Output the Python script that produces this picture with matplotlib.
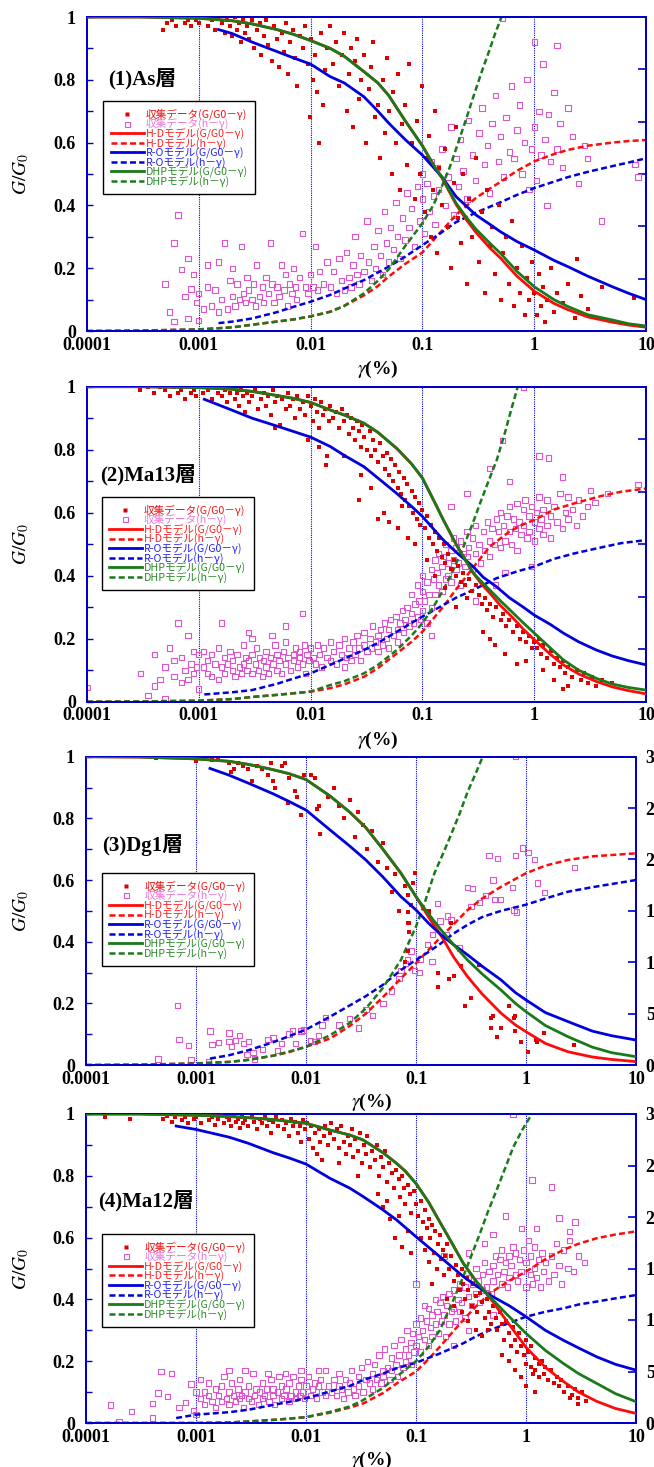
import matplotlib
matplotlib.use('Agg')
import matplotlib.pyplot as plt
from matplotlib.lines import Line2D
from matplotlib.ticker import MultipleLocator, NullLocator

plt.rcParams['mathtext.fontset'] = 'stix'
plt.rcParams['font.family'] = ['Liberation Serif', 'Noto Sans CJK JP', 'DejaVu Sans']

# ---------------- data ----------------
# model curves: (gamma %, G/G0) and (gamma %, h %)
p1_hd_g = [(0.0001, 1.0), (0.0003, 1.0), (0.001, 0.996), (0.002, 0.988), (0.003, 0.978), (0.005, 0.96),
           (0.007, 0.945), (0.01, 0.925), (0.015, 0.9), (0.02, 0.875), (0.03, 0.826), (0.04, 0.79),
           (0.05, 0.75), (0.07, 0.67), (0.1, 0.59), (0.13, 0.52), (0.15, 0.487), (0.2, 0.403), (0.25, 0.352),
           (0.3, 0.315), (0.4, 0.265), (0.5, 0.232), (0.7, 0.175), (1, 0.127), (1.5, 0.088), (2, 0.068),
           (3, 0.045), (5, 0.028), (7, 0.019), (10, 0.012)]
p1_dhp_g = [(0.0001, 1.0), (0.0003, 1.0), (0.001, 0.996), (0.002, 0.988), (0.003, 0.978), (0.005, 0.96),
            (0.007, 0.945), (0.01, 0.925), (0.015, 0.9), (0.02, 0.875), (0.03, 0.826), (0.04, 0.79),
            (0.05, 0.75), (0.07, 0.67), (0.1, 0.59), (0.13, 0.52), (0.15, 0.49), (0.2, 0.407), (0.25, 0.36),
            (0.3, 0.325), (0.4, 0.28), (0.5, 0.247), (0.7, 0.19), (1, 0.141), (1.5, 0.1), (2, 0.078),
            (3, 0.052), (5, 0.035), (7, 0.023), (10, 0.016)]
p1_ro_g = [(0.0015, 0.96), (0.002, 0.947), (0.003, 0.92), (0.005, 0.89), (0.007, 0.87), (0.01, 0.85),
           (0.015, 0.81), (0.02, 0.79), (0.03, 0.746), (0.04, 0.70), (0.05, 0.662), (0.07, 0.61), (0.1, 0.56),
           (0.13, 0.515), (0.15, 0.49), (0.2, 0.428), (0.3, 0.37), (0.4, 0.34), (0.5, 0.316), (0.7, 0.285),
           (1, 0.258), (1.5, 0.225), (2, 0.205), (3, 0.175), (5, 0.141), (7, 0.12), (10, 0.10)]
p1_hd_h = [(0.0001, 0.0), (0.0003, 0.05), (0.001, 0.15), (0.002, 0.35), (0.003, 0.6), (0.005, 0.9),
           (0.007, 1.1), (0.01, 1.4), (0.015, 1.85), (0.02, 2.4), (0.03, 3.4), (0.04, 4.3), (0.05, 5.2),
           (0.07, 6.4), (0.1, 7.5), (0.15, 9.6), (0.2, 11.1), (0.3, 12.7), (0.4, 13.6), (0.5, 14.25),
           (0.7, 15.3), (1, 16.2), (1.5, 16.9), (2, 17.3), (3, 17.7), (5, 18.0), (7, 18.15), (10, 18.25)]
p1_ro_h = [(0.0015, 0.75), (0.002, 0.9), (0.003, 1.2), (0.005, 1.8), (0.007, 2.3), (0.01, 2.8), (0.015, 3.45),
           (0.02, 4.05), (0.03, 4.86), (0.05, 6.15), (0.07, 7.1), (0.1, 8.2), (0.15, 9.45), (0.2, 10.4),
           (0.3, 11.3), (0.5, 12.3), (0.7, 13.0), (1, 13.65), (2, 14.7), (3, 15.2), (5, 15.75), (7, 16.1),
           (10, 16.5)]
p1_dhp_h = [(0.0001, 0.0), (0.0003, 0.03), (0.001, 0.15), (0.002, 0.35), (0.003, 0.6), (0.005, 0.9),
            (0.007, 1.1), (0.01, 1.4), (0.015, 1.83), (0.02, 2.4), (0.03, 3.6), (0.04, 4.8), (0.05, 5.9),
            (0.07, 8.1), (0.1, 10.3), (0.125, 12.0), (0.149, 13.8), (0.175, 15.6), (0.203, 17.6),
            (0.24, 19.9), (0.286, 22.4), (0.34, 24.8), (0.4, 26.9), (0.45, 28.5), (0.51, 30.0), (0.6, 32.5)]

p2_hd_g = [(0.0001, 1.0), (0.0003, 1.0), (0.001, 0.997), (0.002, 0.992), (0.003, 0.985), (0.005, 0.972),
           (0.007, 0.963), (0.01, 0.95), (0.015, 0.926), (0.02, 0.91), (0.03, 0.884), (0.04, 0.855),
           (0.059, 0.804), (0.08, 0.755), (0.1, 0.71), (0.13, 0.63), (0.154, 0.577), (0.2, 0.50),
           (0.233, 0.46), (0.286, 0.408), (0.34, 0.372), (0.4, 0.345), (0.5, 0.305), (0.65, 0.265),
           (0.8, 0.23), (1, 0.197), (1.4, 0.15), (1.82, 0.117), (2.5, 0.088), (3.6, 0.064), (5, 0.047),
           (7, 0.035), (10, 0.025)]
p2_dhp_g = [(0.0001, 1.0), (0.0003, 1.0), (0.001, 0.997), (0.002, 0.992), (0.003, 0.985), (0.005, 0.972),
            (0.007, 0.963), (0.01, 0.95), (0.015, 0.926), (0.02, 0.91), (0.03, 0.884), (0.04, 0.855),
            (0.059, 0.804), (0.08, 0.755), (0.1, 0.71), (0.13, 0.63), (0.154, 0.577), (0.2, 0.50),
            (0.233, 0.46), (0.286, 0.408), (0.34, 0.38), (0.4, 0.355), (0.5, 0.32), (0.65, 0.281),
            (0.8, 0.25), (1, 0.218), (1.4, 0.17), (1.82, 0.133), (2.5, 0.1), (3.6, 0.074), (5, 0.056),
            (7, 0.045), (10, 0.037)]
p2_ro_g = [(0.00112, 0.96), (0.002, 0.925), (0.003, 0.90), (0.005, 0.875), (0.007, 0.858), (0.01, 0.84),
           (0.015, 0.81), (0.02, 0.782), (0.03, 0.746), (0.04, 0.71), (0.059, 0.661), (0.08, 0.62),
           (0.1, 0.588), (0.154, 0.513), (0.2, 0.475), (0.286, 0.428), (0.35, 0.395), (0.46, 0.365),
           (0.6, 0.33), (0.8, 0.30), (1, 0.275), (1.4, 0.245), (1.82, 0.218), (2.5, 0.19), (3.6, 0.164),
           (5, 0.145), (7, 0.13), (10, 0.117)]
p2_hd_h = [(0.0001, 0.0), (0.0003, 0.02), (0.001, 0.1), (0.002, 0.25), (0.003, 0.45), (0.005, 0.65),
           (0.007, 0.8), (0.01, 0.96), (0.015, 1.29), (0.02, 1.65), (0.03, 2.37), (0.04, 3.2), (0.059, 4.6),
           (0.08, 5.7), (0.1, 6.66), (0.154, 9.06), (0.2, 10.7), (0.233, 11.58), (0.3, 13.1), (0.4, 14.76),
           (0.6, 16.2), (0.8, 16.9), (1, 17.3), (1.5, 18.3), (2.3, 18.9), (4, 19.6), (6, 20.0), (10, 20.3)]
p2_ro_h = [(0.00112, 0.69), (0.002, 0.9), (0.003, 1.11), (0.005, 1.7), (0.007, 2.2), (0.01, 2.7),
           (0.015, 3.51), (0.02, 4.1), (0.03, 4.92), (0.04, 5.6), (0.059, 6.66), (0.08, 7.5), (0.1, 8.1),
           (0.154, 9.21), (0.2, 9.9), (0.286, 10.65), (0.46, 11.76), (0.7, 12.4), (1, 12.87), (1.5, 13.6),
           (2.3, 14.13), (4, 14.7), (6, 15.1), (10, 15.39)]
p2_dhp_h = [(0.0001, 0.0), (0.0003, 0.02), (0.001, 0.1), (0.002, 0.25), (0.003, 0.45), (0.005, 0.65),
            (0.007, 0.8), (0.01, 0.96), (0.015, 1.59), (0.02, 1.95), (0.03, 2.7), (0.04, 3.5), (0.059, 4.92),
            (0.08, 6.3), (0.1, 7.47), (0.125, 9.0), (0.154, 10.65), (0.19, 12.6), (0.233, 14.76),
            (0.28, 16.9), (0.328, 18.9), (0.39, 21.0), (0.462, 23.0), (0.55, 25.7), (0.63, 28.0),
            (0.70, 29.7), (0.75, 31.0)]

p3_hd_g = [(0.0001, 1.0), (0.0003, 0.999), (0.001, 0.993), (0.002, 0.985), (0.003, 0.975), (0.005, 0.958),
           (0.007, 0.945), (0.01, 0.926), (0.0166, 0.872), (0.025, 0.82), (0.035, 0.77), (0.05, 0.70),
           (0.073, 0.622), (0.1, 0.546), (0.13, 0.48), (0.169, 0.42), (0.22, 0.35), (0.295, 0.286),
           (0.4, 0.23), (0.593, 0.168), (0.8, 0.13), (1, 0.108), (1.5, 0.07), (2.4, 0.043), (4, 0.026),
           (6, 0.018), (10, 0.011)]
p3_dhp_g = [(0.0001, 1.0), (0.0003, 0.999), (0.001, 0.993), (0.002, 0.985), (0.003, 0.975), (0.005, 0.958),
            (0.007, 0.945), (0.01, 0.926), (0.0166, 0.872), (0.025, 0.82), (0.035, 0.77), (0.05, 0.70),
            (0.073, 0.622), (0.1, 0.546), (0.13, 0.49), (0.169, 0.438), (0.22, 0.39), (0.295, 0.34),
            (0.4, 0.295), (0.593, 0.243), (0.8, 0.2), (1, 0.173), (1.5, 0.128), (2.4, 0.092), (4, 0.058),
            (6, 0.04), (10, 0.027)]
p3_ro_g = [(0.00134, 0.962), (0.002, 0.94), (0.003, 0.914), (0.005, 0.88), (0.007, 0.855), (0.01, 0.827),
           (0.0166, 0.762), (0.025, 0.71), (0.035, 0.665), (0.05, 0.61), (0.073, 0.546), (0.1, 0.503),
           (0.13, 0.46), (0.169, 0.422), (0.22, 0.39), (0.295, 0.357), (0.4, 0.32), (0.593, 0.276),
           (0.8, 0.235), (1, 0.211), (1.5, 0.17), (2.4, 0.141), (4, 0.11), (6, 0.095), (10, 0.081)]
p3_hd_h = [(0.0001, 0.0), (0.0003, 0.03), (0.001, 0.15), (0.002, 0.3), (0.003, 0.5), (0.005, 0.9),
           (0.007, 1.25), (0.01, 1.77), (0.0166, 2.58), (0.025, 3.8), (0.035, 5.0), (0.05, 6.6), (0.073, 8.43),
           (0.1, 9.9), (0.13, 11.2), (0.169, 12.48), (0.22, 13.7), (0.295, 15.09), (0.4, 16.2),
           (0.593, 17.34), (0.8, 18.1), (1, 18.66), (1.5, 19.4), (2.4, 19.95), (4, 20.3), (10, 20.6)]
p3_ro_h = [(0.00134, 0.63), (0.002, 0.95), (0.003, 1.44), (0.005, 2.2), (0.007, 2.8), (0.01, 3.45),
           (0.0166, 4.71), (0.025, 5.8), (0.035, 6.7), (0.05, 7.8), (0.073, 9.24), (0.1, 10.23), (0.13, 11.0),
           (0.169, 11.85), (0.22, 12.8), (0.295, 13.65), (0.4, 14.4), (0.593, 15.0), (1, 15.6), (1.5, 16.2),
           (2.4, 16.86), (4, 17.3), (10, 18.0)]
p3_dhp_h = [(0.0001, 0.0), (0.0003, 0.03), (0.001, 0.15), (0.002, 0.3), (0.003, 0.5), (0.005, 0.9),
            (0.007, 1.3), (0.01, 1.77), (0.0166, 2.91), (0.025, 4.1), (0.035, 5.5), (0.05, 7.5),
            (0.073, 10.23), (0.1, 13.47), (0.12, 15.8), (0.147, 18.66), (0.175, 20.5), (0.208, 22.4),
            (0.25, 24.5), (0.295, 26.6), (0.35, 28.4), (0.404, 30.0), (0.45, 31.3)]

p4_hd_g = [(0.0001, 1.0), (0.0003, 1.0), (0.001, 0.996), (0.002, 0.992), (0.003, 0.988), (0.005, 0.982),
           (0.007, 0.976), (0.01, 0.97), (0.0165, 0.948), (0.025, 0.932), (0.033, 0.916), (0.05, 0.875),
           (0.0667, 0.84), (0.08, 0.815), (0.1, 0.775), (0.13, 0.715), (0.165, 0.65), (0.21, 0.585),
           (0.269, 0.517), (0.35, 0.46), (0.47, 0.405), (0.7, 0.32), (1, 0.245), (1.5, 0.18), (2.18, 0.135),
           (3, 0.1), (4.4, 0.07), (6.5, 0.047), (10, 0.031)]
p4_dhp_g = [(0.0001, 1.0), (0.0003, 1.0), (0.001, 0.996), (0.002, 0.992), (0.003, 0.988), (0.005, 0.982),
            (0.007, 0.976), (0.01, 0.97), (0.0165, 0.948), (0.025, 0.932), (0.033, 0.916), (0.05, 0.875),
            (0.0667, 0.84), (0.08, 0.815), (0.1, 0.775), (0.13, 0.715), (0.165, 0.65), (0.21, 0.585),
            (0.269, 0.517), (0.35, 0.46), (0.47, 0.408), (0.7, 0.345), (1, 0.29), (1.5, 0.235),
            (2.18, 0.193), (3, 0.16), (4.4, 0.128), (6.5, 0.095), (10, 0.069)]
p4_ro_g = [(0.00066, 0.961), (0.001, 0.95), (0.002, 0.925), (0.003, 0.905), (0.005, 0.875), (0.007, 0.858),
           (0.01, 0.838), (0.0165, 0.792), (0.025, 0.76), (0.033, 0.733), (0.05, 0.69), (0.0667, 0.657),
           (0.1, 0.603), (0.165, 0.538), (0.269, 0.474), (0.35, 0.445), (0.47, 0.414), (0.7, 0.38),
           (1, 0.344), (1.5, 0.3), (2.18, 0.268), (3, 0.243), (4.4, 0.214), (6.5, 0.19), (10, 0.171)]
p4_hd_h = [(0.0001, 0.0), (0.001, 0.0), (0.002, 0.05), (0.003, 0.15), (0.005, 0.3), (0.007, 0.42),
           (0.01, 0.57), (0.0165, 1.0), (0.025, 1.5), (0.033, 1.89), (0.05, 2.9), (0.0667, 3.84), (0.1, 5.0),
           (0.13, 6.2), (0.165, 7.41), (0.21, 8.7), (0.269, 10.0), (0.35, 11.3), (0.47, 12.6), (0.7, 13.8),
           (1, 14.7), (1.5, 15.9), (2.18, 16.8), (3, 17.4), (4.4, 17.94), (6.5, 18.3), (10, 18.6)]
p4_ro_h = [(0.00066, 0.48), (0.001, 0.81), (0.002, 1.05), (0.003, 1.29), (0.005, 1.75), (0.007, 2.05),
           (0.01, 2.4), (0.0165, 3.06), (0.025, 3.6), (0.033, 4.17), (0.05, 4.8), (0.0667, 5.31), (0.1, 5.85),
           (0.165, 6.75), (0.269, 7.74), (0.35, 8.4), (0.47, 9.03), (0.7, 9.7), (1, 10.32), (1.5, 10.8),
           (2.18, 11.13), (3, 11.5), (4.4, 11.79), (6.5, 12.1), (10, 12.42)]
p4_dhp_h = [(0.0001, 0.0), (0.001, 0.0), (0.002, 0.05), (0.003, 0.15), (0.005, 0.3), (0.007, 0.42),
            (0.01, 0.57), (0.0165, 1.08), (0.025, 1.6), (0.033, 2.22), (0.05, 3.4), (0.0667, 4.5), (0.1, 6.0),
            (0.13, 7.4), (0.165, 9.03), (0.21, 11.5), (0.269, 14.22), (0.32, 16.3), (0.382, 18.42),
            (0.45, 20.5), (0.54, 22.6), (0.65, 24.8), (0.767, 26.8), (0.93, 28.5), (1.13, 30.0), (1.25, 31.0)]

# collected data: (gamma %, G/G0)
p1_red = [(0.00048, 0.96), (0.00052, 0.98), (0.00058, 0.99), (0.00062, 0.97), (0.0007, 1.0), (0.00075, 0.98),
          (0.0008, 0.99), (0.00085, 0.97), (0.0009, 1.0), (0.00095, 0.99), (0.001, 0.98), (0.0011, 1.0),
          (0.0012, 0.97), (0.0013, 0.99), (0.0014, 0.96), (0.0015, 1.0), (0.0016, 0.98), (0.0017, 0.95),
          (0.0018, 0.99), (0.0019, 0.97), (0.002, 0.94), (0.0021, 1.0), (0.0022, 0.96), (0.0023, 0.98),
          (0.0024, 0.92), (0.0025, 0.99), (0.0026, 0.95), (0.0027, 0.97), (0.0028, 0.93), (0.003, 0.99),
          (0.0031, 0.9), (0.0033, 0.96), (0.0035, 0.98), (0.0036, 0.88), (0.0038, 0.94), (0.004, 0.99),
          (0.0042, 0.91), (0.0045, 0.86), (0.0047, 0.97), (0.005, 0.93), (0.0052, 0.84), (0.0055, 0.95),
          (0.0058, 0.89), (0.006, 0.98), (0.0063, 0.82), (0.0066, 0.92), (0.007, 0.96), (0.0072, 0.87),
          (0.0075, 0.78), (0.008, 0.94), (0.0085, 0.9), (0.009, 0.97), (0.0095, 0.85), (0.0098, 0.68),
          (0.01, 0.93), (0.0105, 0.8), (0.011, 0.88), (0.0115, 0.76), (0.012, 0.6), (0.0125, 0.95),
          (0.013, 0.72), (0.0135, 0.83), (0.014, 0.9), (0.015, 0.97), (0.016, 0.85), (0.017, 0.92),
          (0.018, 0.78), (0.019, 0.88), (0.02, 0.95), (0.021, 0.7), (0.022, 0.82), (0.023, 0.9), (0.024, 0.65),
          (0.025, 0.86), (0.026, 0.93), (0.027, 0.74), (0.028, 0.8), (0.03, 0.88), (0.031, 0.6), (0.033, 0.77),
          (0.035, 0.84), (0.036, 0.92), (0.038, 0.68), (0.04, 0.72), (0.042, 0.55), (0.044, 0.8),
          (0.046, 0.63), (0.048, 0.87), (0.05, 0.7), (0.053, 0.5), (0.055, 0.76), (0.058, 0.6), (0.06, 0.82),
          (0.063, 0.45), (0.066, 0.66), (0.07, 0.72), (0.073, 0.53), (0.076, 0.85), (0.08, 0.6), (0.085, 0.42),
          (0.09, 0.67), (0.095, 0.5), (0.1, 0.78), (0.105, 0.38), (0.11, 0.55), (0.115, 0.62), (0.12, 0.3),
          (0.125, 0.45), (0.13, 0.7), (0.135, 0.25), (0.14, 0.52), (0.15, 0.4), (0.16, 0.58), (0.17, 0.33),
          (0.18, 0.2), (0.19, 0.47), (0.2, 0.65), (0.21, 0.36), (0.22, 0.28), (0.23, 0.5), (0.25, 0.15),
          (0.26, 0.42), (0.28, 0.3), (0.3, 0.55), (0.32, 0.22), (0.34, 0.38), (0.36, 0.12), (0.38, 0.45),
          (0.4, 0.27), (0.42, 0.33), (0.45, 0.18), (0.48, 0.4), (0.5, 0.1), (0.53, 0.25), (0.56, 0.3),
          (0.6, 0.15), (0.63, 0.35), (0.66, 0.08), (0.7, 0.2), (0.74, 0.12), (0.78, 0.27), (0.82, 0.05),
          (0.86, 0.17), (0.9, 0.1), (0.95, 0.22), (1.0, 0.12), (1.05, 0.05), (1.1, 0.18), (1.15, 0.08),
          (1.2, 0.14), (1.25, 0.03), (1.3, 0.1), (1.4, 0.2), (1.5, 0.06), (1.6, 0.12), (1.8, 0.09),
          (2.0, 0.15), (2.3, 0.04), (2.4, 0.23), (2.6, 0.11), (3.0, 0.07), (4.0, 0.14), (7.8, 0.105)]
# collected data: (gamma %, h %)
p1_pink = [(0.0005, 4.5), (0.00055, 1.8), (0.0006, 8.4), (0.0006, 0.9), (0.00065, 11.1), (0.0007, 5.9),
           (0.00075, 3.3), (0.0008, 6.9), (0.0008, 1.2), (0.00085, 4.0), (0.0009, 5.4), (0.00095, 2.7),
           (0.001, 1.0), (0.001, 3.6), (0.0011, 2.1), (0.0012, 6.3), (0.0012, 4.2), (0.0013, 2.4), (0.0014, 3.9),
           (0.0015, 6.6), (0.0015, 1.8), (0.0016, 3.0), (0.0017, 8.4), (0.0018, 2.1), (0.0019, 4.8),
           (0.002, 3.3), (0.002, 6.0), (0.0021, 2.4), (0.0022, 4.5), (0.0023, 3.0), (0.0024, 8.1),
           (0.0025, 3.6), (0.0026, 2.7), (0.0027, 5.1), (0.0028, 3.9), (0.003, 3.0), (0.0031, 4.5),
           (0.0032, 2.4), (0.0033, 6.3), (0.0035, 3.3), (0.0037, 4.2), (0.0038, 2.7), (0.004, 5.1),
           (0.0042, 3.6), (0.0044, 8.4), (0.0045, 4.5), (0.0047, 2.7), (0.005, 4.2), (0.0052, 3.3),
           (0.0055, 6.3), (0.0058, 3.9), (0.006, 5.4), (0.0062, 2.4), (0.0065, 4.5), (0.0068, 3.6), (0.007, 6.0),
           (0.0073, 4.2), (0.0075, 3.0), (0.008, 5.1), (0.0085, 9.3), (0.009, 4.2), (0.0095, 3.6), (0.01, 5.4),
           (0.0105, 4.2), (0.011, 8.1), (0.0115, 3.9), (0.012, 5.7), (0.013, 4.5), (0.014, 6.6), (0.015, 4.2),
           (0.016, 5.7), (0.017, 3.6), (0.018, 6.9), (0.019, 4.8), (0.02, 3.9), (0.021, 7.5), (0.022, 5.1),
           (0.023, 4.2), (0.024, 6.3), (0.025, 9.0), (0.026, 5.4), (0.027, 4.5), (0.028, 7.2), (0.03, 5.7),
           (0.032, 10.5), (0.033, 6.6), (0.035, 4.8), (0.037, 8.1), (0.038, 6.0), (0.04, 9.6), (0.042, 7.2),
           (0.044, 5.4), (0.046, 11.4), (0.048, 8.4), (0.05, 6.6), (0.052, 9.9), (0.055, 7.8), (0.058, 12.3),
           (0.06, 9.0), (0.063, 6.9), (0.066, 10.8), (0.07, 8.7), (0.073, 13.2), (0.076, 9.9), (0.08, 11.7),
           (0.085, 8.1), (0.09, 13.8), (0.095, 10.5), (0.1, 12.6), (0.1, 15.0), (0.105, 9.3), (0.11, 14.1),
           (0.115, 11.4), (0.12, 16.2), (0.125, 12.9), (0.13, 10.2), (0.135, 15.6), (0.14, 13.5), (0.15, 17.4),
           (0.16, 12.0), (0.17, 14.7), (0.18, 19.5), (0.19, 11.1), (0.2, 16.5), (0.21, 13.8), (0.22, 18.3),
           (0.23, 15.3), (0.25, 12.6), (0.26, 20.1), (0.28, 16.8), (0.3, 14.4), (0.32, 18.9), (0.34, 21.3),
           (0.36, 15.9), (0.38, 17.7), (0.4, 13.2), (0.42, 19.8), (0.45, 22.5), (0.48, 16.2), (0.5, 18.6),
           (0.53, 14.7), (0.56, 20.4), (0.6, 17.1), (0.63, 23.4), (0.66, 16.5), (0.7, 19.2), (0.74, 21.6),
           (0.78, 15.0), (0.82, 18.0), (0.86, 24.0), (0.9, 13.5), (0.95, 17.4), (1.0, 19.5), (1.05, 14.4),
           (1.1, 21.0), (1.15, 16.8), (1.2, 25.5), (1.25, 18.3), (1.3, 12.0), (1.35, 20.7), (1.4, 16.2),
           (1.5, 22.8), (1.6, 17.4), (1.7, 19.8), (1.8, 15.6), (2.0, 21.3), (2.2, 18.6), (2.5, 14.1),
           (2.8, 17.7), (3.0, 16.5), (4.0, 10.5), (8.0, 15.9), (8.5, 14.7), (0.52, 29.9), (1.0, 27.6),
           (1.6, 27.3)]

p2_red = [(0.0003, 0.99), (0.00035, 1.0), (0.0004, 0.98), (0.00045, 1.0), (0.0005, 0.99), (0.00055, 0.97),
          (0.0006, 1.0), (0.00065, 0.98), (0.0007, 0.99), (0.00075, 0.96), (0.0008, 1.0), (0.00085, 0.98),
          (0.0009, 0.99), (0.00095, 0.97), (0.001, 1.0), (0.0011, 0.98), (0.0012, 0.99), (0.0013, 0.96),
          (0.0014, 1.0), (0.0015, 0.98), (0.0016, 0.97), (0.0017, 0.99), (0.0018, 0.95), (0.0019, 0.98),
          (0.002, 1.0), (0.0021, 0.96), (0.0022, 0.98), (0.0023, 0.94), (0.0024, 0.99), (0.0025, 0.97),
          (0.0026, 0.92), (0.0027, 0.98), (0.0028, 0.95), (0.003, 0.97), (0.0032, 0.99), (0.0034, 0.93),
          (0.0036, 0.96), (0.0038, 0.98), (0.004, 0.94), (0.0042, 0.97), (0.0044, 0.91), (0.0046, 0.99),
          (0.0048, 0.95), (0.005, 0.97), (0.0053, 0.88), (0.0056, 0.96), (0.006, 0.93), (0.0063, 0.98),
          (0.0066, 0.94), (0.007, 0.96), (0.0073, 0.9), (0.0076, 0.97), (0.008, 0.93), (0.0085, 0.95),
          (0.009, 0.91), (0.0095, 0.97), (0.01, 0.94), (0.0105, 0.89), (0.011, 0.96), (0.0115, 0.92),
          (0.012, 0.87), (0.0125, 0.95), (0.013, 0.91), (0.0135, 0.93), (0.014, 0.78), (0.0145, 0.89),
          (0.0048, 0.87), (0.0095, 0.83), (0.012, 0.81), (0.0138, 0.75), (0.015, 0.94), (0.016, 0.9),
          (0.017, 0.92), (0.018, 0.87), (0.019, 0.93), (0.02, 0.89), (0.021, 0.91), (0.022, 0.85), (0.023, 0.9),
          (0.024, 0.87), (0.025, 0.83), (0.026, 0.89), (0.027, 0.86), (0.028, 0.81), (0.029, 0.88),
          (0.03, 0.84), (0.032, 0.8), (0.034, 0.86), (0.035, 0.78), (0.036, 0.83), (0.038, 0.8), (0.04, 0.76),
          (0.042, 0.82), (0.044, 0.78), (0.046, 0.74), (0.048, 0.79), (0.05, 0.72), (0.052, 0.77), (0.055, 0.7),
          (0.057, 0.75), (0.06, 0.68), (0.062, 0.73), (0.065, 0.66), (0.068, 0.71), (0.07, 0.64),
          (0.073, 0.69), (0.076, 0.62), (0.08, 0.67), (0.083, 0.6), (0.086, 0.65), (0.09, 0.58), (0.093, 0.63),
          (0.096, 0.56), (0.1, 0.61), (0.02, 0.78), (0.028, 0.72), (0.035, 0.68), (0.045, 0.6), (0.05, 0.57),
          (0.06, 0.55), (0.066, 0.62), (0.075, 0.52), (0.085, 0.5), (0.027, 0.64), (0.04, 0.58),
          (0.105, 0.55), (0.11, 0.59), (0.115, 0.52), (0.12, 0.56), (0.125, 0.5), (0.13, 0.54), (0.135, 0.48),
          (0.14, 0.52), (0.15, 0.46), (0.155, 0.5), (0.16, 0.44), (0.17, 0.47), (0.18, 0.42), (0.19, 0.45),
          (0.2, 0.4), (0.21, 0.43), (0.22, 0.38), (0.23, 0.41), (0.24, 0.37), (0.26, 0.39), (0.28, 0.35),
          (0.3, 0.37), (0.11, 0.45), (0.13, 0.4), (0.16, 0.36), (0.2, 0.3), (0.25, 0.33), (0.32, 0.34),
          (0.34, 0.31), (0.36, 0.33), (0.38, 0.29), (0.4, 0.31), (0.43, 0.27), (0.46, 0.3), (0.5, 0.26),
          (0.53, 0.28), (0.56, 0.24), (0.6, 0.26), (0.65, 0.22), (0.7, 0.24), (0.75, 0.2), (0.8, 0.22),
          (0.85, 0.19), (0.9, 0.21), (0.95, 0.17), (1.0, 0.19), (0.35, 0.22), (0.45, 0.18), (0.55, 0.15),
          (0.7, 0.12), (0.85, 0.13), (0.4, 0.2), (1.05, 0.17), (1.1, 0.2), (1.15, 0.15), (1.2, 0.18),
          (1.3, 0.14), (1.4, 0.16), (1.5, 0.12), (1.6, 0.14), (1.7, 0.11), (1.8, 0.13), (1.9, 0.09),
          (2.0, 0.11), (2.2, 0.08), (2.4, 0.1), (2.6, 0.07), (2.8, 0.09), (3.0, 0.06), (3.3, 0.08),
          (3.6, 0.05), (4.0, 0.07), (5.0, 0.06), (1.2, 0.1), (1.5, 0.07), (2.0, 0.05), (1.8, 0.04)]
p2_pink = [(0.0001, 1.35), (0.0003, 2.7), (0.00035, 0.6), (0.0004, 1.5), (0.0004, 4.5), (0.00045, 2.1),
           (0.0005, 3.3), (0.0005, 0.3), (0.00055, 5.1), (0.0006, 2.4), (0.0006, 3.9), (0.00065, 7.5),
           (0.0007, 1.8), (0.0007, 4.2), (0.00075, 3.0), (0.0008, 6.3), (0.0008, 2.1), (0.00085, 3.6),
           (0.0009, 4.8), (0.0009, 2.7), (0.00095, 3.3), (0.001, 1.2), (0.001, 4.5), (0.0011, 3.3),
           (0.0011, 4.8), (0.0012, 2.7), (0.0012, 3.9), (0.0013, 4.5), (0.0013, 2.4), (0.0014, 3.6),
           (0.0015, 5.1), (0.0015, 2.1), (0.0016, 3.3), (0.0017, 4.2), (0.0017, 2.7), (0.0018, 3.6),
           (0.0019, 4.8), (0.002, 3.0), (0.002, 3.9), (0.0021, 2.4), (0.0022, 4.5), (0.0023, 3.3),
           (0.0024, 2.7), (0.0025, 5.4), (0.0025, 3.6), (0.0026, 4.2), (0.0027, 3.0), (0.0028, 3.9),
           (0.003, 2.7), (0.003, 4.5), (0.0032, 3.6), (0.0033, 5.1), (0.0034, 3.0), (0.0035, 4.2),
           (0.0037, 2.4), (0.0038, 3.9), (0.004, 4.8), (0.004, 3.3), (0.0042, 2.7), (0.0044, 4.2),
           (0.0046, 3.6), (0.0048, 5.4), (0.005, 3.0), (0.005, 4.5), (0.0052, 3.9), (0.0055, 2.7),
           (0.0057, 4.8), (0.006, 3.6), (0.006, 5.7), (0.0063, 4.2), (0.0066, 3.0), (0.007, 4.5), (0.007, 3.9),
           (0.0073, 5.1), (0.0076, 3.3), (0.008, 4.8), (0.008, 4.2), (0.0085, 3.6), (0.0088, 5.4),
           (0.009, 2.7), (0.0093, 4.5), (0.0097, 3.9), (0.01, 5.1), (0.0016, 7.5), (0.003, 6.0), (0.006, 7.2),
           (0.0085, 8.4), (0.0028, 6.6), (0.0045, 6.3), (0.0105, 4.2), (0.011, 3.6), (0.0115, 5.4),
           (0.012, 4.5), (0.0125, 3.3), (0.013, 5.1), (0.014, 4.2), (0.015, 3.9), (0.015, 5.7), (0.016, 4.8),
           (0.017, 3.6), (0.018, 5.4), (0.019, 4.5), (0.02, 3.3), (0.02, 6.0), (0.021, 4.2), (0.022, 5.1),
           (0.023, 3.9), (0.024, 5.7), (0.025, 4.5), (0.026, 6.3), (0.027, 5.1), (0.028, 3.9), (0.03, 5.4),
           (0.03, 6.6), (0.032, 4.8), (0.034, 6.0), (0.035, 5.1), (0.036, 7.2), (0.038, 5.7), (0.04, 6.3),
           (0.04, 4.8), (0.042, 6.9), (0.044, 5.4), (0.046, 7.5), (0.048, 6.0), (0.05, 6.9), (0.05, 5.1),
           (0.052, 7.8), (0.055, 6.3), (0.058, 8.1), (0.06, 6.9), (0.06, 5.7), (0.063, 7.5), (0.066, 8.7),
           (0.068, 6.6), (0.07, 7.8), (0.073, 9.0), (0.076, 7.2), (0.08, 8.4), (0.08, 10.2), (0.083, 7.5),
           (0.086, 9.3), (0.09, 8.1), (0.09, 11.1), (0.093, 9.6), (0.096, 7.8), (0.1, 10.5), (0.1, 8.7),
           (0.1, 12.0), (0.105, 9.6), (0.11, 11.4), (0.11, 7.5), (0.115, 10.2), (0.12, 12.6), (0.12, 9.0),
           (0.125, 11.7), (0.13, 13.5), (0.13, 10.2), (0.135, 12.3), (0.14, 11.1), (0.14, 14.1), (0.15, 12.9),
           (0.15, 10.5), (0.155, 13.8), (0.16, 11.7), (0.16, 15.0), (0.17, 13.2), (0.17, 12.0), (0.18, 14.4),
           (0.18, 11.4), (0.19, 13.5), (0.19, 15.6), (0.2, 12.6), (0.2, 14.7), (0.21, 13.2), (0.22, 15.3),
           (0.22, 11.1), (0.23, 14.1), (0.24, 12.9), (0.25, 13.8), (0.25, 16.2), (0.26, 14.7), (0.28, 12.6),
           (0.28, 15.6), (0.3, 14.1), (0.3, 16.8), (0.32, 15.0), (0.33, 13.2), (0.35, 16.2), (0.36, 14.4),
           (0.38, 17.1), (0.4, 15.3), (0.4, 13.8), (0.42, 16.5), (0.44, 15.0), (0.46, 17.4), (0.48, 16.2),
           (0.5, 14.7), (0.5, 18.0), (0.53, 16.8), (0.55, 15.3), (0.57, 17.7), (0.6, 16.2), (0.6, 18.6),
           (0.63, 15.0), (0.65, 17.4), (0.68, 16.5), (0.7, 18.9), (0.7, 14.4), (0.73, 17.1), (0.76, 15.9),
           (0.8, 18.3), (0.8, 16.8), (0.83, 19.2), (0.86, 15.6), (0.9, 17.7), (0.9, 16.2), (0.95, 18.6),
           (1.0, 17.1), (1.0, 15.3), (1.05, 18.0), (1.1, 16.5), (1.1, 19.5), (1.15, 17.4), (1.2, 15.9),
           (1.2, 18.3), (1.3, 16.8), (1.3, 19.2), (1.4, 17.7), (1.4, 15.6), (1.5, 18.6), (1.6, 17.1),
           (1.7, 19.8), (1.8, 16.5), (1.9, 18.0), (2.0, 17.4), (2.0, 19.5), (2.2, 18.3), (2.4, 16.8),
           (2.5, 19.2), (2.7, 17.7), (3.0, 18.6), (3.2, 20.1), (3.5, 19.0), (4.5, 19.8), (8.5, 20.7),
           (0.8, 29.9), (0.52, 24.9), (1.1, 23.4), (1.35, 23.2), (1.8, 21.4), (0.4, 22.2), (0.18, 18.6),
           (0.25, 19.8), (0.6, 21.0), (0.3, 9.6), (0.45, 11.1), (0.55, 12.3), (0.95, 12.9), (0.12, 6.3)]

p3_red = [(0.00043, 0.995), (0.001, 0.985), (0.0014, 0.99), (0.0016, 0.995), (0.002, 0.98), (0.0021, 0.95),
          (0.0022, 0.96), (0.0024, 0.98), (0.0027, 0.97), (0.003, 0.96), (0.0032, 0.92), (0.0036, 0.97),
          (0.004, 0.96), (0.0045, 0.94), (0.0048, 0.98), (0.005, 0.92), (0.0052, 0.9), (0.006, 0.97),
          (0.0065, 0.98), (0.0068, 0.85), (0.007, 0.93), (0.008, 0.89), (0.0082, 0.87), (0.009, 0.81),
          (0.0095, 0.94), (0.011, 0.94), (0.012, 0.93), (0.0125, 0.83), (0.013, 0.84), (0.0135, 0.75),
          (0.016, 0.87), (0.018, 0.9), (0.02, 0.84), (0.022, 0.8), (0.025, 0.86), (0.028, 0.74), (0.03, 0.82),
          (0.033, 0.78), (0.036, 0.7), (0.04, 0.76), (0.045, 0.66), (0.05, 0.72), (0.055, 0.64), (0.06, 0.56),
          (0.065, 0.62), (0.07, 0.5), (0.08, 0.58), (0.085, 0.46), (0.09, 0.52), (0.097, 0.622),
          (0.093, 0.59), (0.084, 0.55), (0.085, 0.497), (0.086, 0.46), (0.087, 0.43), (0.085, 0.37),
          (0.08, 0.333), (0.13, 0.5), (0.132, 0.49), (0.208, 0.46), (0.194, 0.41), (0.257, 0.32),
          (0.223, 0.29), (0.157, 0.3), (0.157, 0.254), (0.2, 0.28), (0.28, 0.19), (0.316, 0.216),
          (0.376, 0.325), (0.48, 0.152), (0.5, 0.16), (0.48, 0.119), (0.55, 0.092), (0.59, 0.119),
          (0.7, 0.19), (0.78, 0.152), (0.8, 0.16), (0.8, 0.11), (0.91, 0.076), (1.04, 0.043), (1.23, 0.081),
          (1.27, 0.076), (1.45, 0.103), (2.75, 0.065)]
p3_pink = [(0.00045, 0.6), (0.00068, 5.8), (0.0007, 2.5), (0.00085, 1.9), (0.0009, 0.55), (0.0013, 0.3),
           (0.00134, 3.3), (0.0014, 2.0), (0.0016, 2.2), (0.002, 2.3), (0.002, 3.1), (0.0021, 1.8),
           (0.0023, 2.4), (0.0025, 2.9), (0.0027, 2.1), (0.003, 2.3), (0.0029, 1.0), (0.0033, 1.2),
           (0.0034, 0.6), (0.004, 1.5), (0.0045, 2.5), (0.005, 2.7), (0.0055, 1.4), (0.006, 2.1), (0.007, 3.0),
           (0.0075, 3.3), (0.008, 2.1), (0.009, 3.3), (0.0095, 3.4), (0.011, 2.4), (0.012, 2.3), (0.013, 2.9),
           (0.014, 3.9), (0.015, 4.6), (0.02, 3.9), (0.025, 4.5), (0.03, 3.6), (0.035, 5.4), (0.04, 4.8),
           (0.05, 6.0), (0.06, 7.2), (0.07, 8.4), (0.073, 9.2), (0.084, 10.2), (0.08, 9.9), (0.09, 11.1),
           (0.097, 9.2), (0.107, 9.0), (0.11, 10.3), (0.128, 11.7), (0.14, 10.1), (0.142, 12.7),
           (0.157, 15.7), (0.165, 14.0), (0.194, 14.5), (0.208, 14.1), (0.19, 12.7), (0.25, 11.4),
           (0.295, 17.3), (0.326, 17.2), (0.316, 15.4), (0.376, 15.8), (0.43, 16.5), (0.46, 20.4),
           (0.5, 18.0), (0.52, 16.1), (0.55, 20.1), (0.59, 16.1), (0.75, 17.3), (0.78, 15.1), (0.8, 20.4),
           (0.82, 14.9), (0.93, 21.1), (1.04, 20.7), (1.2, 20.0), (1.27, 17.7), (1.47, 16.8), (2.75, 19.2),
           (0.8, 30.0)]

p4_red = [(0.00015, 0.99), (0.00025, 0.985), (0.0005, 0.985), (0.00055, 0.995), (0.0006, 0.975),
          (0.00065, 0.99), (0.0007, 1.0), (0.00075, 0.98), (0.0008, 0.99), (0.00085, 0.97), (0.0009, 1.0),
          (0.00095, 0.985), (0.001, 0.99), (0.0011, 0.97), (0.0012, 1.0), (0.0013, 0.98), (0.0014, 0.99),
          (0.0015, 0.965), (0.0016, 0.985), (0.0017, 1.0), (0.0018, 0.97), (0.0019, 0.99), (0.002, 0.98),
          (0.0021, 0.96), (0.0022, 0.995), (0.0023, 0.975), (0.0024, 0.985), (0.0025, 0.955), (0.0026, 0.99),
          (0.0027, 0.97), (0.0028, 0.98), (0.003, 0.96), (0.0032, 0.99), (0.0034, 0.975), (0.0036, 0.95),
          (0.0038, 0.985), (0.004, 0.97), (0.0042, 0.99), (0.0044, 0.96), (0.0046, 0.98), (0.0048, 0.94),
          (0.005, 0.975), (0.0053, 0.99), (0.0056, 0.96), (0.006, 0.98), (0.0063, 0.95), (0.0066, 0.97),
          (0.007, 0.93), (0.0073, 0.985), (0.0076, 0.96), (0.008, 0.975), (0.0084, 0.94), (0.0088, 0.96),
          (0.009, 0.91), (0.0094, 0.98), (0.0098, 0.95), (0.0102, 0.97), (0.0107, 0.92), (0.011, 0.96),
          (0.0115, 0.89), (0.012, 0.94), (0.0125, 0.87), (0.013, 0.95), (0.0135, 0.91), (0.014, 0.85),
          (0.0145, 0.93), (0.015, 0.96), (0.0158, 0.9), (0.0165, 0.94), (0.017, 0.97), (0.018, 0.92),
          (0.019, 0.95), (0.02, 0.89), (0.021, 0.96), (0.022, 0.91), (0.023, 0.87), (0.024, 0.93), (0.025, 0.9),
          (0.026, 0.95), (0.027, 0.86), (0.028, 0.92), (0.03, 0.88), (0.031, 0.94), (0.032, 0.84),
          (0.034, 0.9), (0.035, 0.87), (0.036, 0.93), (0.038, 0.83), (0.04, 0.88), (0.042, 0.85), (0.044, 0.9),
          (0.046, 0.8), (0.048, 0.86), (0.05, 0.83), (0.052, 0.88), (0.055, 0.78), (0.057, 0.84), (0.06, 0.81),
          (0.063, 0.76), (0.066, 0.82), (0.07, 0.79), (0.072, 0.73), (0.075, 0.8), (0.078, 0.76), (0.08, 0.71),
          (0.084, 0.77), (0.088, 0.74), (0.09, 0.68), (0.095, 0.75), (0.1, 0.71), (0.02, 0.84), (0.03, 0.8),
          (0.045, 0.74), (0.05, 0.7), (0.058, 0.66), (0.065, 0.6), (0.07, 0.67), (0.075, 0.57), (0.085, 0.62),
          (0.09, 0.55), (0.055, 0.72), (0.105, 0.67), (0.11, 0.72), (0.11, 0.6), (0.115, 0.65), (0.12, 0.69),
          (0.12, 0.56), (0.125, 0.63), (0.13, 0.66), (0.13, 0.52), (0.135, 0.6), (0.14, 0.64), (0.145, 0.55),
          (0.15, 0.62), (0.155, 0.5), (0.16, 0.58), (0.165, 0.61), (0.17, 0.53), (0.175, 0.56), (0.18, 0.48),
          (0.185, 0.54), (0.19, 0.58), (0.2, 0.5), (0.21, 0.54), (0.22, 0.46), (0.23, 0.51), (0.24, 0.48),
          (0.25, 0.43), (0.26, 0.5), (0.27, 0.45), (0.28, 0.4), (0.29, 0.47), (0.3, 0.43), (0.32, 0.38),
          (0.33, 0.45), (0.35, 0.41), (0.36, 0.36), (0.38, 0.42), (0.4, 0.39), (0.42, 0.34), (0.44, 0.4),
          (0.46, 0.36), (0.48, 0.32), (0.5, 0.38), (0.14, 0.45), (0.19, 0.4), (0.22, 0.38), (0.26, 0.36),
          (0.3, 0.33), (0.35, 0.3), (0.4, 0.28), (0.45, 0.3), (0.53, 0.34), (0.55, 0.3), (0.58, 0.36),
          (0.6, 0.32), (0.63, 0.27), (0.66, 0.33), (0.7, 0.29), (0.73, 0.25), (0.76, 0.31), (0.8, 0.27),
          (0.83, 0.23), (0.86, 0.29), (0.9, 0.25), (0.95, 0.22), (1.0, 0.27), (1.0, 0.19), (1.05, 0.23),
          (1.1, 0.18), (1.1, 0.25), (1.15, 0.16), (1.2, 0.21), (1.2, 0.17), (1.3, 0.19), (1.3, 0.15),
          (1.4, 0.2), (1.45, 0.16), (1.5, 0.18), (1.6, 0.14), (1.7, 0.17), (1.8, 0.13), (1.9, 0.15),
          (2.0, 0.12), (2.1, 0.14), (2.2, 0.1), (2.4, 0.12), (2.6, 0.09), (2.8, 0.11), (3.0, 0.08),
          (3.2, 0.1), (3.5, 0.07), (0.7, 0.2), (0.9, 0.15), (1.0, 0.12), (1.2, 0.1), (0.6, 0.22), (0.8, 0.17),
          (2.5, 0.08), (3.0, 0.06)]
p4_pink = [(0.000166, 1.75), (0.0002, 0.15), (0.00026, 1.1), (0.0004, 0.5), (0.0004, 1.9), (0.00045, 2.9),
           (0.00048, 5.0), (0.00055, 2.6), (0.0006, 4.8), (0.0007, 1.5), (0.0008, 2.0), (0.0009, 3.8),
           (0.00095, 1.2), (0.001, 0.8), (0.001, 3.0), (0.0011, 2.4), (0.0011, 4.2), (0.0012, 3.0),
           (0.0012, 1.8), (0.0013, 2.7), (0.0013, 3.9), (0.0014, 2.1), (0.0015, 3.3), (0.0015, 1.5),
           (0.0016, 2.7), (0.0017, 3.6), (0.0017, 2.1), (0.0018, 4.5), (0.0019, 2.4), (0.002, 3.0),
           (0.002, 1.8), (0.0021, 3.9), (0.0022, 2.7), (0.0023, 2.1), (0.0024, 3.3), (0.0025, 2.4),
           (0.0025, 4.2), (0.0026, 2.7), (0.0027, 1.5), (0.0028, 3.0), (0.003, 2.4), (0.003, 3.6),
           (0.0032, 2.1), (0.0033, 4.8), (0.0034, 2.7), (0.0035, 3.3), (0.0037, 1.8), (0.0038, 3.0),
           (0.004, 2.4), (0.004, 3.9), (0.0042, 2.7), (0.0044, 3.3), (0.0046, 2.1), (0.0048, 4.2), (0.005, 2.7),
           (0.005, 3.3), (0.0052, 1.8), (0.0055, 3.0), (0.0057, 4.5), (0.006, 2.4), (0.006, 3.6), (0.0063, 2.7),
           (0.0066, 3.3), (0.007, 2.1), (0.007, 3.9), (0.0073, 2.7), (0.0076, 4.5), (0.008, 3.0), (0.008, 2.4),
           (0.0085, 3.6), (0.0088, 2.7), (0.009, 4.2), (0.0093, 3.0), (0.0097, 2.4), (0.01, 3.6),
           (0.0105, 4.5), (0.011, 2.7), (0.0115, 3.3), (0.012, 3.9), (0.0125, 2.4), (0.013, 3.6), (0.0135, 4.2),
           (0.014, 3.0), (0.015, 5.1), (0.015, 2.7), (0.016, 3.6), (0.002, 5.1), (0.0045, 4.8), (0.0065, 4.8),
           (0.009, 5.1), (0.013, 5.1), (0.0028, 5.1), (0.017, 3.0), (0.018, 4.2), (0.019, 2.7), (0.02, 3.6),
           (0.02, 4.8), (0.021, 3.3), (0.022, 2.4), (0.023, 4.2), (0.024, 3.0), (0.025, 3.9), (0.026, 5.1),
           (0.027, 3.3), (0.028, 2.7), (0.03, 4.5), (0.03, 3.6), (0.032, 5.4), (0.033, 3.0), (0.035, 4.2),
           (0.036, 6.0), (0.038, 3.9), (0.04, 4.8), (0.04, 3.3), (0.042, 5.7), (0.044, 4.2), (0.046, 6.6),
           (0.048, 3.9), (0.05, 5.1), (0.05, 4.5), (0.052, 7.2), (0.055, 5.4), (0.058, 4.2), (0.06, 6.3),
           (0.06, 5.1), (0.063, 7.5), (0.066, 5.7), (0.068, 4.5), (0.07, 6.6), (0.073, 8.1), (0.076, 5.4),
           (0.08, 7.2), (0.08, 6.0), (0.083, 9.0), (0.086, 6.6), (0.09, 7.8), (0.09, 5.7), (0.093, 8.7),
           (0.096, 6.9), (0.1, 9.6), (0.1, 7.5), (0.105, 8.4), (0.11, 10.2), (0.11, 6.9), (0.115, 9.0),
           (0.12, 11.4), (0.12, 8.1), (0.125, 9.9), (0.13, 7.5), (0.13, 11.1), (0.135, 9.3), (0.14, 10.5),
           (0.14, 8.4), (0.15, 12.0), (0.15, 9.6), (0.155, 10.8), (0.16, 8.7), (0.165, 11.7), (0.17, 9.9),
           (0.175, 12.3), (0.18, 10.5), (0.185, 8.4), (0.19, 11.4), (0.2, 12.6), (0.2, 9.6), (0.21, 10.8),
           (0.22, 12.9), (0.22, 11.1), (0.23, 9.9), (0.24, 12.0), (0.25, 13.5), (0.25, 10.8), (0.26, 11.7),
           (0.28, 13.2), (0.28, 10.2), (0.3, 12.3), (0.3, 14.1), (0.32, 11.4), (0.33, 13.5), (0.35, 12.6),
           (0.35, 15.0), (0.37, 13.8), (0.38, 11.7), (0.4, 14.4), (0.4, 12.9), (0.42, 15.6), (0.44, 13.2),
           (0.46, 14.7), (0.48, 12.6), (0.5, 15.3), (0.5, 13.8), (0.53, 16.2), (0.55, 14.4), (0.58, 15.9),
           (0.6, 13.5), (0.6, 16.8), (0.63, 14.7), (0.65, 15.6), (0.68, 13.2), (0.7, 16.2), (0.7, 14.1),
           (0.73, 15.3), (0.76, 17.1), (0.8, 14.4), (0.8, 16.5), (0.84, 13.8), (0.87, 15.9), (0.9, 14.7),
           (0.95, 16.8), (1.0, 13.2), (1.0, 15.6), (1.05, 17.7), (1.1, 14.4), (1.1, 16.2), (1.15, 13.5),
           (1.2, 15.0), (1.2, 17.1), (1.25, 14.1), (1.3, 15.9), (1.35, 13.2), (1.4, 16.5), (1.45, 14.7),
           (1.5, 15.6), (1.6, 13.8), (1.7, 16.2), (1.8, 14.4), (1.9, 17.4), (2.0, 15.3), (2.1, 13.5),
           (2.2, 16.8), (2.4, 15.0), (2.5, 17.7), (2.7, 14.7), (3.0, 16.2), (3.4, 15.6), (0.76, 30.0),
           (1.13, 23.6), (1.7, 22.9), (0.65, 20.1), (2.0, 19.9), (0.91, 18.9), (0.5, 18.3), (2.5, 18.6),
           (1.25, 18.9), (0.18, 16.2), (0.1, 13.5), (0.3, 16.5), (0.42, 17.4), (2.8, 19.5), (0.3, 9.0),
           (0.22, 7.5), (0.5, 10.5)]

panel_titles = ['(1)As層', '(2)Ma13層', '(3)Dg1層', '(4)Ma12層']
legend_labels = ['収集データ(G/G0－γ)', '収集データ(h－γ)', 'H-Dモデル(G/G0－γ)', 'H-Dモデル(h－γ)',
                 'R-Oモデル(G/G0－γ)', 'R-Oモデル(h－γ)', 'DHPモデル(G/G0－γ)', 'DHPモデル(h－γ)']
x_ticks = [0.0001, 0.001, 0.01, 0.1, 1, 10]
x_ticklabels = ['0.0001', '0.001', '0.01', '0.1', '1', '10']
y_ticks = [0, 0.2, 0.4, 0.6, 0.8, 1.0]
y_ticklabels = ['0', '0.2', '0.4', '0.6', '0.8', '1']
h_ticks = [0, 5, 10, 15, 20, 25, 30]
h_ticklabels = ['0', '5', '10', '15', '20', '25', '30']

# ---------------- style ----------------
RED = '#ff0a0a'
RED_PT = '#dd0000'
PINK = '#dd55cc'
BLUE = '#0000dd'
GREEN = '#1a7a1a'
AX_BLUE = '#0000cc'
LEG_COLORS = ['#ee1111', '#e878d8', '#ff2020', '#ff2020', '#2222ee', '#2222ee', '#2a8a2a', '#2a8a2a']
DASH = (0, (2.4, 1.3))
W, H = 654, 1467
LEG_W, LEG_H = 152, 93   # legend box size in the reference, pixels
LEG_FS = 7.7

fig = plt.figure(figsize=(W / 100, H / 100), dpi=100)


def px_rect(left, top, right, bottom):
    return [left / W, 1 - bottom / H, (right - left) / W, (bottom - top) / H]


def xy(pts):
    return [p[0] for p in pts], [p[1] for p in pts]


def make_legend(ax, handles, leg_xy, pad, spacing):
    leg = ax.legend(handles, legend_labels, loc='upper left', bbox_to_anchor=leg_xy, borderaxespad=0,
                    prop={'family': ['Noto Sans CJK JP', 'DejaVu Sans'], 'size': LEG_FS},
                    frameon=True, fancybox=False, edgecolor='black', framealpha=1,
                    handlelength=3.1, handletextpad=0.2, labelspacing=spacing, borderpad=pad)
    leg.get_frame().set_linewidth(1.0)
    for t, c in zip(leg.get_texts(), LEG_COLORS):
        t.set_color(c)
    return leg


def draw_panel(rect, title, title_xy, leg_xy, red, pink, hd_g, hd_h, ro_g, ro_h, dhp_g, dhp_h):
    ax = fig.add_axes(rect)
    ax.set_xscale('log')
    ax2 = ax.twinx()
    ax.set_zorder(ax2.get_zorder() + 1)
    ax.patch.set_visible(False)

    # vertical dotted grid (bottom layer)
    for g in x_ticks[1:-1]:
        ax2.axvline(g, color=BLUE, lw=0.8, ls=(0, (1, 1)), zorder=0)

    # h side
    xs, ys = xy(pink)
    ax2.scatter(xs, ys, marker='s', s=15, facecolors='none', edgecolors=PINK, linewidths=0.8, zorder=2)
    for pts, col in [(hd_h, RED), (ro_h, BLUE), (dhp_h, GREEN)]:
        x, y = xy(pts)
        ax2.plot(x, y, color=col, lw=1.8, ls=DASH, zorder=3)

    # G/G0 side
    xs, ys = xy(red)
    ax.scatter(xs, ys, marker='s', s=8, color=RED_PT, linewidths=0, zorder=2)
    for pts, col in [(hd_g, RED), (ro_g, BLUE), (dhp_g, GREEN)]:
        x, y = xy(pts)
        ax.plot(x, y, color=col, lw=2.0, zorder=3)

    ax.set_xlim(1e-4, 10)
    ax.set_ylim(0, 1)
    ax2.set_ylim(0, 30)

    ax.set_xticks(x_ticks, x_ticklabels, fontsize=13, fontweight='bold')
    ax.xaxis.set_minor_locator(NullLocator())
    ax.tick_params(axis='x', which='both', length=0, pad=4)
    ax.set_yticks(y_ticks, y_ticklabels, fontsize=13, fontweight='bold')
    ax.yaxis.set_minor_locator(MultipleLocator(0.1))
    ax.tick_params(axis='y', which='both', direction='in', length=4, width=1, color=AX_BLUE, pad=8)
    ax2.set_yticks(h_ticks, h_ticklabels, fontsize=13, fontweight='bold')
    ax2.tick_params(axis='y', direction='in', length=6, width=1.2, color=AX_BLUE, pad=7)

    for a in (ax, ax2):
        for sp in a.spines.values():
            sp.set_color(AX_BLUE)
            sp.set_linewidth(1.4)

    ax.set_ylabel('$G/G_0$', fontsize=14)
    ax.yaxis.set_label_coords(-0.10, 0.5)
    ax.set_xlabel(r'$\gamma$(%)', fontsize=14, fontweight='bold')
    ax.xaxis.set_label_coords(0.52, -0.088)

    ax.text(title_xy[0], title_xy[1], title, transform=ax.transAxes, fontsize=15, fontweight='bold',
            va='center', ha='left', family=['Liberation Serif', 'Noto Sans CJK JP'])

    handles = [Line2D([], [], ls='none', marker='s', ms=3, color=RED_PT, mec='none'),
               Line2D([], [], ls='none', marker='s', ms=3.6, mfc='none', mec=PINK, mew=0.8),
               Line2D([], [], color=RED, lw=2.0), Line2D([], [], color=RED, lw=1.8, ls=DASH),
               Line2D([], [], color=BLUE, lw=2.0), Line2D([], [], color=BLUE, lw=1.8, ls=DASH),
               Line2D([], [], color=GREEN, lw=2.0), Line2D([], [], color=GREEN, lw=1.8, ls=DASH)]

    # size the legend box to the reference box (padding for width, row spacing for height)
    fs_px = LEG_FS * 100 / 72
    pad, spacing = 0.5, -0.2
    for _ in range(4):
        leg = make_legend(ax, handles, leg_xy, pad, spacing)
        fig.canvas.draw()
        bb = leg.get_window_extent()
        pad += (LEG_W - bb.width) / 2.0 / fs_px
        leg = make_legend(ax, handles, leg_xy, pad, spacing)
        fig.canvas.draw()
        bb = leg.get_window_extent()
        spacing += (LEG_H - bb.height) / 7.0 / fs_px
    make_legend(ax, handles, leg_xy, pad, spacing)
    return ax


draw_panel(px_rect(87, 17, 646, 331), panel_titles[0], (0.038, 0.80), (0.029, 0.732),
           p1_red, p1_pink, p1_hd_g, p1_hd_h, p1_ro_g, p1_ro_h, p1_dhp_g, p1_dhp_h)
draw_panel(px_rect(87, 386.7, 646, 701.7), panel_titles[1], (0.023, 0.717), (0.026, 0.65),
           p2_red, p2_pink, p2_hd_g, p2_hd_h, p2_ro_g, p2_ro_h, p2_dhp_g, p2_dhp_h)
draw_panel(px_rect(86, 756.7, 636, 1065), panel_titles[2], (0.0285, 0.714), (0.0285, 0.623),
           p3_red, p3_pink, p3_hd_g, p3_hd_h, p3_ro_g, p3_ro_h, p3_dhp_g, p3_dhp_h)
draw_panel(px_rect(86, 1114, 636, 1423), panel_titles[3], (0.022, 0.715), (0.0285, 0.612),
           p4_red, p4_pink, p4_hd_g, p4_hd_h, p4_ro_g, p4_ro_h, p4_dhp_g, p4_dhp_h)

fig.savefig('out.png', dpi=100)
